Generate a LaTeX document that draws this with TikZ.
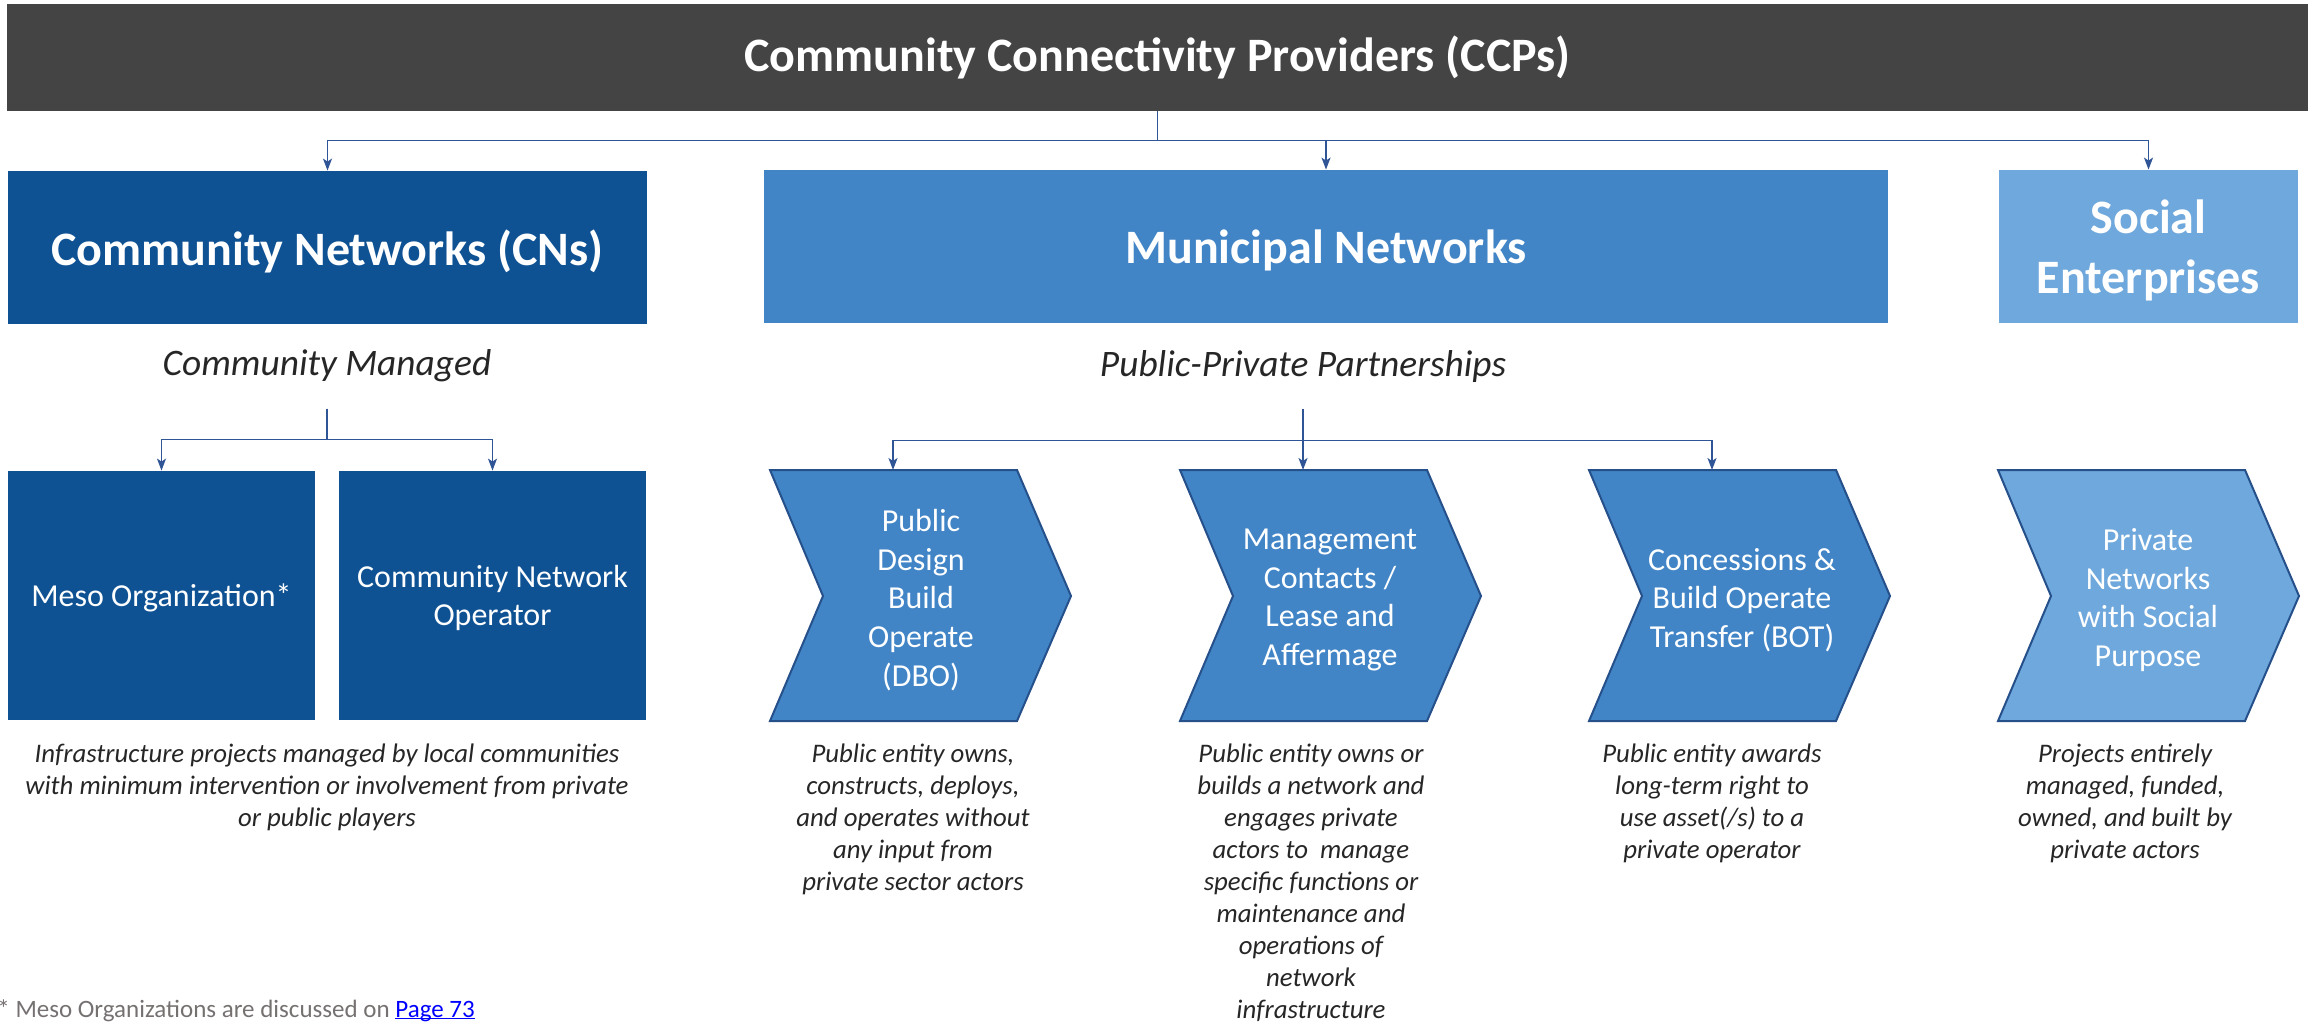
\documentclass[tikz,border=0pt]{standalone}
\usepackage{fontspec}
\setmainfont{Carlito}
\usetikzlibrary{arrows.meta}

\definecolor{titlegray}{HTML}{444444}
\definecolor{cnblue}{HTML}{0F5294}
\definecolor{munblue}{HTML}{4185C7}
\definecolor{socblue}{HTML}{6FA8DC}
\definecolor{linkblue}{HTML}{2F5597}
\definecolor{edgeblue}{HTML}{25508A}
\definecolor{txtgray}{HTML}{262626}
\definecolor{notegray}{HTML}{767171}

\newcommand\pagelink[1]{\textcolor{blue}{\setbox0\hbox{#1}\rlap{\rule[-1pt]{\wd0}{0.6pt}}\box0}}

\tikzset{
  head/.style={fill=#1, text=white, inner sep=0pt, font=\fontsize{24}{30}\selectfont\bfseries, align=center},
  unit/.style={fill=cnblue, text=white, inner sep=0pt, minimum width=153.5pt, minimum height=124.5pt,
    text depth=0pt, font=\fontsize{16}{19.3}\selectfont, align=center},
  chevtxt/.style={text=white, inner sep=0pt, font=\fontsize{16}{19.3}\selectfont, align=center},
  chevline/.style={fill=#1, draw=edgeblue, line width=1pt, line join=miter},
  lbl/.style={text=txtgray, inner sep=0pt, font=\fontsize{18.7}{22}\selectfont\itshape},
  desc/.style={text=txtgray, inner sep=0pt, anchor=north, align=center, font=\fontsize{13.4}{16}\selectfont\itshape},
  link/.style={draw=linkblue, line width=0.85pt, -{Stealth[length=6pt,width=4.5pt,inset=1.5pt]}}
}

\begin{document}
\begin{tikzpicture}[x=0.5pt, y=-0.5pt]
  \useasboundingbox (0,0) rectangle (2313,1022);

  % top level
  \node[head=titlegray, minimum width=1150.5pt, minimum height=53.5pt] (ccp) at (1157.5,57.5)
    {Community Connectivity Providers (CCPs)};

  % three kinds of provider
  \node[head=cnblue, text depth=0pt, minimum width=319.5pt, minimum height=76.5pt] (cn) at (327.5,247.5) {Community Networks (CNs)};
  \node[head=munblue, text depth=0pt, minimum width=562pt, minimum height=76.5pt] (mun) at (1326,246.5) {Municipal Networks};
  \node[head=socblue, text depth=0pt, minimum width=149.5pt, minimum height=76.5pt] (soc) at (2148.5,246.5) {Social\\Enterprises};

  \draw[link] (ccp.south) -- ++(0,29) -| (cn.north);
  \draw[link] (ccp.south) -- ++(0,29) -| (mun.north);
  \draw[link] (ccp.south) -- ++(0,29) -| (soc.north);

  \node[lbl] (cnlbl) at (327,366) {Community Managed};
  \node[lbl] (munlbl) at (1303,367) {Public-Private Partnerships};

  % community side
  \node[unit] (meso) at (161.5,595.5) {Meso Organization*};
  \node[unit] (cno) at (492.5,595.5) {Community Network\\Operator};

  \draw[link] (cnlbl.south) ++(0,26) -- ++(0,31) -| (meso.north);
  \draw[link] (cnlbl.south) ++(0,26) -- ++(0,31) -| (cno.north);

  % chevrons
  \foreach \x/\c/\nm in {770/munblue/dbo, 1180/munblue/mgmt, 1589/munblue/bot, 1998/socblue/priv}{
    \draw[chevline=\c] (\x,470) -- ++(247,0) -- ++(54,126) -- ++(-54,125) -- ++(-247,0) -- ++(53,-125) -- cycle;
    \coordinate (\nm) at (\x+123,470);
  }
  \node[chevtxt] (dbotxt) at (921,600) {Public\\Design\\Build\\Operate\\(DBO)};
  \node[chevtxt] (mgmttxt) at (1330,600) {Management\\Contacts /\\Lease and\\Affermage};
  \node[chevtxt] (bottxt) at (1742,600) {Concessions \&\\Build Operate\\Transfer (BOT)};
  \node[chevtxt] (privtxt) at (2148,600) {Private\\Networks\\with Social\\Purpose};

  \draw[link] (munlbl.south) ++(0,26) -- (mgmt);
  \draw[link] (munlbl.south) ++(0,26) -- ++(0,31) -| (dbo);
  \draw[link] (munlbl.south) ++(0,26) -- ++(0,31) -| (bot);

  % descriptions
  \node[desc] (cndesc) at (327,743) {Infrastructure projects managed by local communities\\with minimum intervention or involvement from private\\or public players};
  \node[desc] (dbodesc) at (913,743) {Public entity owns,\\constructs, deploys,\\and operates without\\any input from\\private sector actors};
  \node[desc] (mgmtdesc) at (1311,743) {Public entity owns or\\builds a network and\\engages private\\actors to~ manage\\specific functions or\\maintenance and\\operations of\\network\\infrastructure};
  \node[desc] (botdesc) at (1712,743) {Public entity awards\\long-term right to\\use asset(/s) to a\\private operator};
  \node[desc] (privdesc) at (2125,743) {Projects entirely\\managed, funded,\\owned, and built by\\private actors};

  % footnote
  \node[anchor=base west, inner sep=0pt, text=notegray, font=\fontsize{12.5}{14}\selectfont] (note) at (-3,1017)
    {* Meso Organizations are discussed on \pagelink{Page 73}};
\end{tikzpicture}
\end{document}
